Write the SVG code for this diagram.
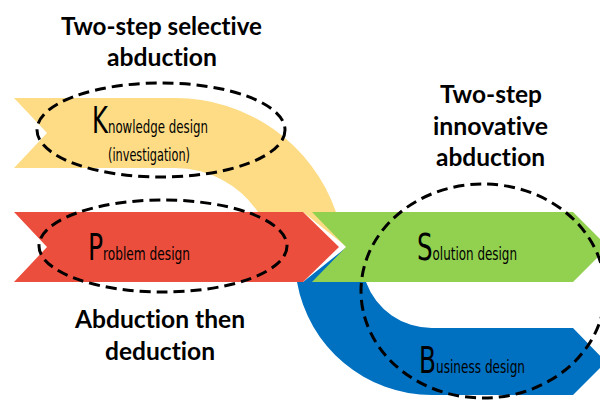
<svg xmlns="http://www.w3.org/2000/svg" width="600" height="400" viewBox="0 0 600 400">
<style>
.title{font-family:Lato,"Open Sans","Liberation Sans",sans-serif;font-weight:bold;font-size:25px;fill:#000;font-variant-ligatures:none}
.lbl{font-family:"DejaVu Sans Condensed","DejaVu Sans","Liberation Sans",sans-serif;fill:#000}
.cap{font-size:37px}
.sm{font-size:18px}
.ell{fill:none;stroke:#000;stroke-width:3;stroke-dasharray:11 6}
</style>
<rect width="600" height="400" fill="#fff"/>
<g id="bands">
<g id="knowledge-band"><path d="M14,98 L175,98 A170,170 0 0 1 336,212 L348,248 L303,212 L258,212 A100,100 0 0 0 175,168 L14,168 L47,133 Z" fill="#FDDC85"/></g>
<g id="business-band"><path d="M297,282 A137,137 0 0 0 432,395 L573,395 L606,362 L573,328 L432,328 A70,70 0 0 1 366,282 L348,246 L303,282 Z" fill="#0070C0"/></g>
<g id="problem-band"><path d="M14,212 L303,212 L339,247 L303,282 L14,282 L47,247 Z" fill="#EC4E3D"/></g>
<g id="solution-band"><path d="M312,212 L573,212 L608,247 L573,282 L312,282 L346,247 Z" fill="#92D050"/></g>
</g>
<g id="knowledge">
<ellipse class="ell" cx="161" cy="130" rx="124" ry="47"/>
<text class="lbl" x="92" y="133" textLength="116" lengthAdjust="spacingAndGlyphs"><tspan class="cap">K</tspan><tspan class="sm">nowledge design</tspan></text>
<text class="lbl" x="108" y="161" font-size="17" textLength="82" lengthAdjust="spacingAndGlyphs">(investigation)</text>
</g>
<g id="problem">
<ellipse class="ell" cx="163" cy="246" rx="124" ry="46"/>
<text class="lbl" x="88" y="260" textLength="102" lengthAdjust="spacingAndGlyphs"><tspan class="cap">P</tspan><tspan class="sm">roblem design</tspan></text>
</g>
<g id="solution-business">
<ellipse class="ell" cx="483" cy="291" rx="122" ry="107"/>
<text class="lbl" x="417" y="260" textLength="100" lengthAdjust="spacingAndGlyphs"><tspan class="cap">S</tspan><tspan class="sm">olution design</tspan></text>
<text class="lbl" x="419" y="373" textLength="106" lengthAdjust="spacingAndGlyphs"><tspan class="cap">B</tspan><tspan class="sm">usiness design</tspan></text>
</g>
<g id="titles">
<text class="title" x="61" y="35" textLength="201" lengthAdjust="spacingAndGlyphs">Two-step selective</text>
<text class="title" x="107" y="66" textLength="110" lengthAdjust="spacingAndGlyphs">abduction</text>
<text class="title" x="440" y="103" textLength="102" lengthAdjust="spacingAndGlyphs">Two-step</text>
<text class="title" x="433" y="135" textLength="115" lengthAdjust="spacingAndGlyphs">innovative</text>
<text class="title" x="436" y="166" textLength="109" lengthAdjust="spacingAndGlyphs">abduction</text>
<text class="title" x="75" y="328" textLength="170" lengthAdjust="spacingAndGlyphs">Abduction then</text>
<text class="title" x="105" y="360" textLength="110" lengthAdjust="spacingAndGlyphs">deduction</text>
</g>
<g id="connectors"></g>
</svg>
